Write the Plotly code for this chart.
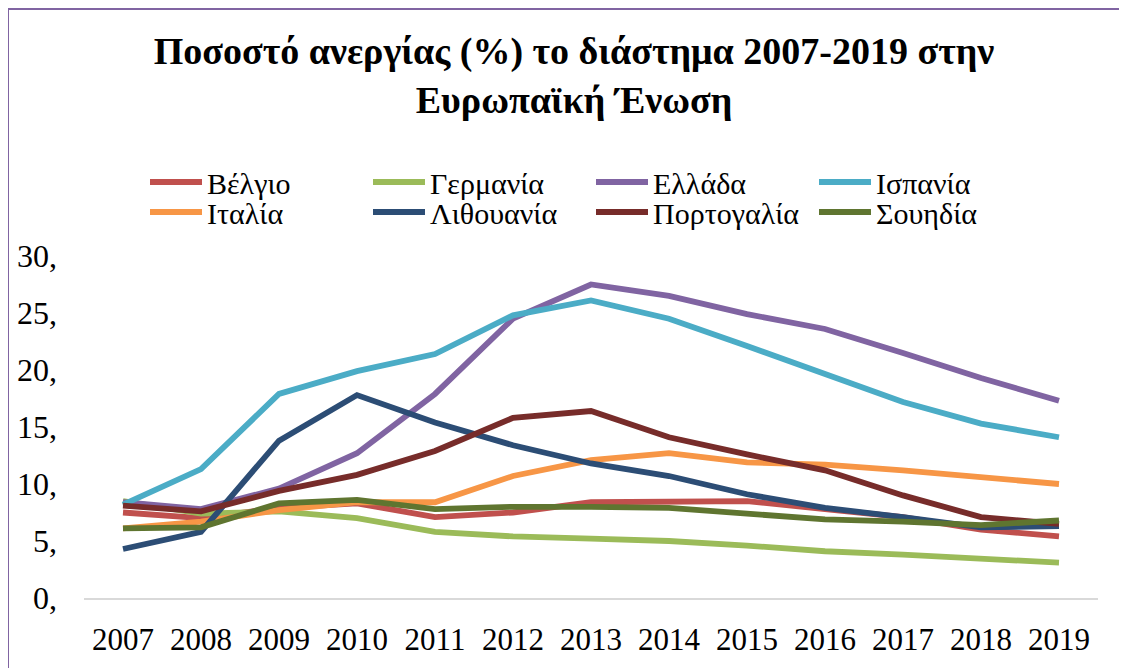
import plotly.graph_objects as go

years = ["2007", "2008", "2009", "2010", "2011", "2012", "2013",
         "2014", "2015", "2016", "2017", "2018", "2019"]

belgio = [7.5, 7.0, 7.9, 8.3, 7.1, 7.5, 8.4, 8.5, 8.5, 7.8, 7.1, 6.0, 5.4]
germania = [8.5, 7.4, 7.6, 7.0, 5.8, 5.4, 5.2, 5.0, 4.6, 4.1, 3.8, 3.4, 3.1]
ellada = [8.4, 7.8, 9.6, 12.7, 17.9, 24.5, 27.5, 26.5, 24.9, 23.6, 21.5, 19.3, 17.3]
ispania = [8.2, 11.3, 17.9, 19.9, 21.4, 24.8, 26.1, 24.5, 22.1, 19.6, 17.2, 15.3, 14.1]
italia = [6.1, 6.7, 7.7, 8.4, 8.4, 10.7, 12.1, 12.7, 11.9, 11.7, 11.2, 10.6, 10.0]
lithouania = [4.3, 5.8, 13.8, 17.8, 15.4, 13.4, 11.8, 10.7, 9.1, 7.9, 7.1, 6.2, 6.3]
portogalia = [8.1, 7.6, 9.4, 10.8, 12.9, 15.8, 16.4, 14.1, 12.6, 11.2, 9.0, 7.1, 6.5]
souidia = [6.1, 6.2, 8.3, 8.6, 7.8, 8.0, 8.0, 7.9, 7.4, 6.9, 6.7, 6.4, 6.8]

y_ticks = [0, 5, 10, 15, 20, 25, 30]
y_ticktext = ["0,", "5,", "10,", "15,", "20,", "25,", "30,"]

series = [
    ("Βέλγιο", belgio, "#C0504D", "legend"),
    ("Γερμανία", germania, "#9BBB59", "legend"),
    ("Ελλάδα", ellada, "#8064A2", "legend"),
    ("Ισπανία", ispania, "#4BACC6", "legend"),
    ("Ιταλία", italia, "#F79646", "legend2"),
    ("Λιθουανία", lithouania, "#2C4D75", "legend2"),
    ("Πορτογαλία", portogalia, "#772C2A", "legend2"),
    ("Σουηδία", souidia, "#5F7530", "legend2"),
]

FONT = "Liberation Serif"

# page has an 8px body margin, so targets are reference pixels minus 8
OFF = 8
W, H = 1127, 668

fig = go.Figure()
for name, vals, color, leg in series:
    fig.add_trace(go.Scatter(
        x=years, y=vals, name=name, mode="lines",
        line=dict(color=color, width=5.8),
        legend=leg,
    ))

# two one-row legends so the rows sit as close as in the original
legend_common = dict(
    orientation="h",
    xref="container", yref="container",
    x=(145 - OFF) / W, xanchor="left",
    yanchor="middle",
    entrywidth=156, entrywidthmode="pixels",
    font=dict(family=FONT, size=30, color="black"),
    bgcolor="rgba(0,0,0,0)",
    itemwidth=52,
    traceorder="normal",
)

l, r, t, b = 84 - OFF, W - (1098 - OFF), 256 - OFF, H - (598 - OFF)

fig.update_layout(
    width=W, height=H,
    paper_bgcolor="white", plot_bgcolor="white",
    margin=dict(l=l, r=r, t=t, b=b, autoexpand=False),
    font=dict(family=FONT, color="black"),
    title=dict(
        text="<b>Ποσοστό ανεργίας (%) το διάστημα 2007-2019 στην<br>Ευρωπαϊκή Ένωση</b>",
        font=dict(family=FONT, size=38, color="black"),
        xref="container", yref="container",
        x=(574 - OFF) / W, xanchor="center",
        y=1 - (64 - OFF) / H, yanchor="middle",
    ),
    legend=dict(legend_common, y=1 - (182 - OFF) / H),
    legend2=dict(legend_common, y=1 - (212 - OFF) / H),
    xaxis=dict(
        type="category", range=[-0.5, 12.5],
        showgrid=False, zeroline=False,
        showline=True, linecolor="#D9D9D9", linewidth=2,
        ticks="", ticklabelstandoff=13,
        tickfont=dict(family=FONT, size=31, color="black"),
    ),
    yaxis=dict(
        range=[0, 30],
        tickvals=y_ticks, ticktext=y_ticktext,
        showgrid=False, zeroline=False, showline=False,
        ticks="", ticklabelstandoff=26,
        tickfont=dict(family=FONT, size=32, color="black"),
    ),
    shapes=[dict(
        type="rect", xref="paper", yref="paper",
        x0=(8 - 84) / (1098 - 84), x1=(1140 - 84) / (1098 - 84),
        y0=-0.5, y1=(598 - 9) / (598 - 256),
        line=dict(color="#8064A2", width=2),
        fillcolor="rgba(0,0,0,0)", layer="below",
    )],
)

fig.write_html("out.html")
